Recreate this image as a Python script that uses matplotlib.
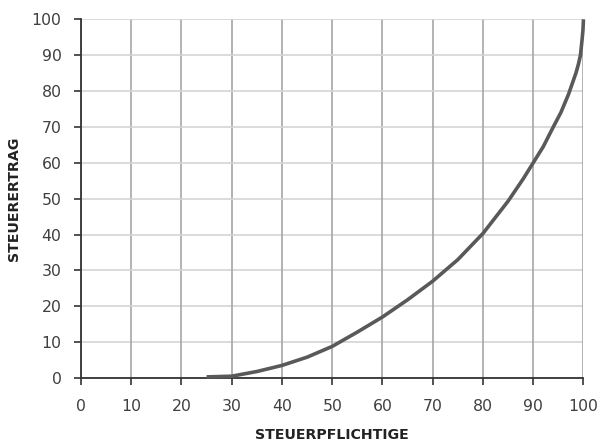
import matplotlib
matplotlib.use("Agg")
import matplotlib.pyplot as plt

x_vals = [25, 30, 35, 40, 45, 50, 55, 60, 65, 70, 75, 80, 85, 88, 90, 92, 94, 95.5, 97, 98, 98.5, 99, 99.4, 99.7, 99.9, 100]
y_vals = [0.3, 0.5, 1.8, 3.5, 5.8, 8.8, 12.8, 17, 21.8, 27, 33, 40.3, 49.3, 55.5, 60, 64.5, 70, 74, 79, 83, 85, 87.5, 90, 94, 97, 100]
ticks = list(range(0, 101, 10))

fig = plt.figure(figsize=(6.04, 4.45), dpi=100)
ax = fig.add_axes([0.134, 0.1506, 0.832, 0.806])
ax.set_xlim(0, 100)
ax.set_ylim(0, 100)
ax.set_xticks(ticks)
ax.set_yticks(ticks)
for t in ticks:
    ax.axhline(t, color="#d4d4d4", lw=1.2, zorder=1)
    ax.axvline(t, color="#a6a6a6", lw=1.2, zorder=1)
ax.plot(x_vals, y_vals, color="#595959", lw=2.6, solid_capstyle="butt",
        solid_joinstyle="round", zorder=3, clip_on=False)
for s in ["top", "right"]:
    ax.spines[s].set_visible(False)
for s in ["left", "bottom"]:
    ax.spines[s].set_color("#333333")
    ax.spines[s].set_linewidth(1.3)
ax.tick_params(direction="out", length=5, width=1.2, color="#333333", labelsize=11.3, labelcolor="#404040")
ax.tick_params(axis="x", pad=10)
ax.tick_params(axis="y", pad=9)
ax.set_xlabel("STEUERPFLICHTIGE", fontsize=10.2, fontweight="bold", color="#222222", labelpad=10)
ax.set_ylabel("STEUERERTRAG", fontsize=10.2, fontweight="bold", color="#222222", labelpad=8)
fig.savefig("out.png", dpi=100)
